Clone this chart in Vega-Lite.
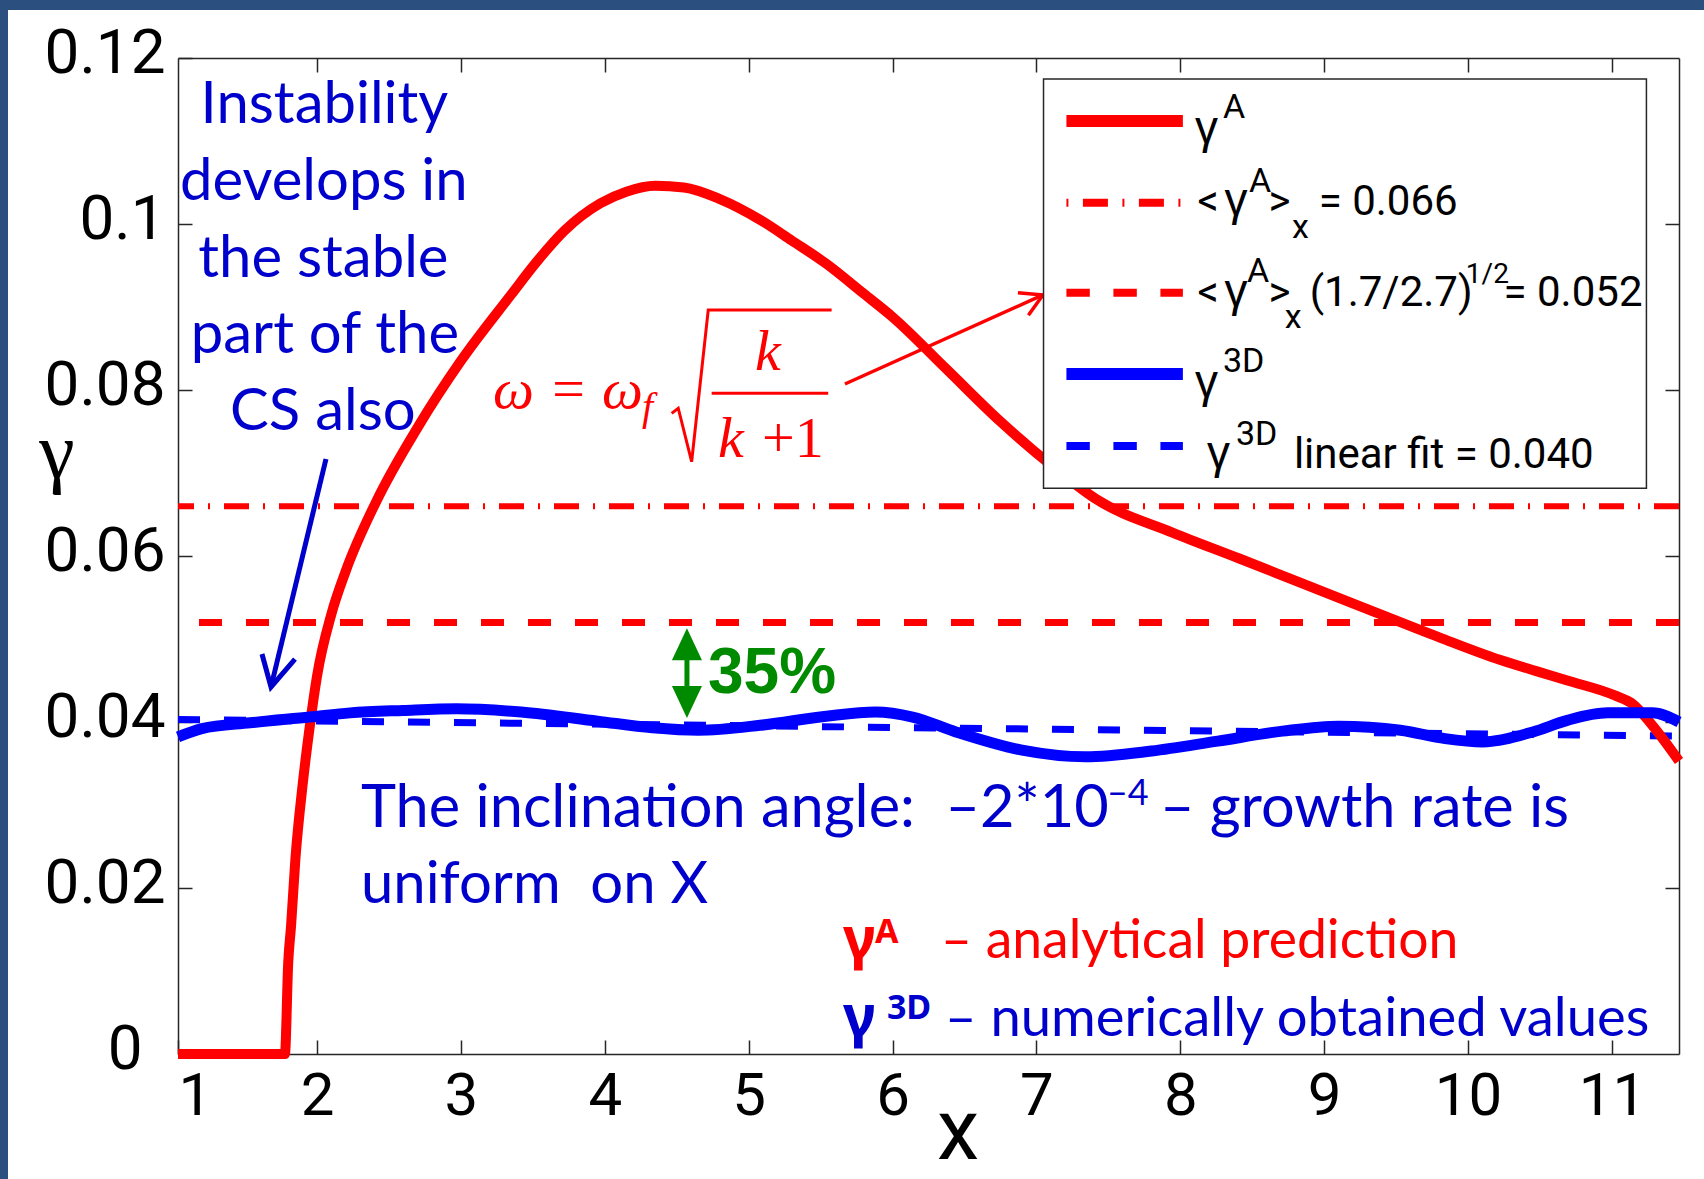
{
  "$schema": "https://vega.github.io/schema/vega-lite/v6.json",
  "width": 1501,
  "height": 996,
  "autosize": {"type": "none"},
  "padding": {"left": 178, "top": 58, "right": 25, "bottom": 125},
  "background": "white",
  "config": {"view": {"stroke": null}},
  "datasets": {
    "curves": [
      {"s": "gA", "x": 1.034, "y": 0},
      {"s": "gA", "x": 1.777, "y": 0},
      {"s": "gA", "x": 1.8, "y": 0.011},
      {"s": "gA", "x": 1.82, "y": 0.0155},
      {"s": "gA", "x": 1.85, "y": 0.0235},
      {"s": "gA", "x": 1.9, "y": 0.0324},
      {"s": "gA", "x": 1.95, "y": 0.0395},
      {"s": "gA", "x": 2.0, "y": 0.0455},
      {"s": "gA", "x": 2.1, "y": 0.053},
      {"s": "gA", "x": 2.2, "y": 0.0582},
      {"s": "gA", "x": 2.41, "y": 0.0665},
      {"s": "gA", "x": 2.7, "y": 0.0755},
      {"s": "gA", "x": 3.0, "y": 0.0835},
      {"s": "gA", "x": 3.35, "y": 0.0915},
      {"s": "gA", "x": 3.52, "y": 0.0953},
      {"s": "gA", "x": 3.72, "y": 0.0992},
      {"s": "gA", "x": 3.97, "y": 0.1025},
      {"s": "gA", "x": 4.15, "y": 0.1039},
      {"s": "gA", "x": 4.35, "y": 0.1046},
      {"s": "gA", "x": 4.55, "y": 0.1044},
      {"s": "gA", "x": 4.8, "y": 0.103},
      {"s": "gA", "x": 5.08, "y": 0.1005},
      {"s": "gA", "x": 5.3, "y": 0.098},
      {"s": "gA", "x": 5.54, "y": 0.0952},
      {"s": "gA", "x": 5.8, "y": 0.0916},
      {"s": "gA", "x": 6.0, "y": 0.0888},
      {"s": "gA", "x": 6.37, "y": 0.0826},
      {"s": "gA", "x": 6.75, "y": 0.0762},
      {"s": "gA", "x": 7.12, "y": 0.0707},
      {"s": "gA", "x": 7.42, "y": 0.0668},
      {"s": "gA", "x": 7.95, "y": 0.0628},
      {"s": "gA", "x": 8.41, "y": 0.0597},
      {"s": "gA", "x": 8.86, "y": 0.0566},
      {"s": "gA", "x": 9.3, "y": 0.0536},
      {"s": "gA", "x": 9.8, "y": 0.0502},
      {"s": "gA", "x": 10.22, "y": 0.0475},
      {"s": "gA", "x": 10.48, "y": 0.0461},
      {"s": "gA", "x": 10.69, "y": 0.045},
      {"s": "gA", "x": 11.02, "y": 0.0432},
      {"s": "gA", "x": 11.15, "y": 0.0421},
      {"s": "gA", "x": 11.28, "y": 0.0396},
      {"s": "gA", "x": 11.466, "y": 0.0353},
      {"s": "g3D", "x": 1.034, "y": 0.0382},
      {"s": "g3D", "x": 1.2, "y": 0.0392},
      {"s": "g3D", "x": 1.535, "y": 0.0399},
      {"s": "g3D", "x": 1.95, "y": 0.0406},
      {"s": "g3D", "x": 2.23, "y": 0.0411},
      {"s": "g3D", "x": 2.6, "y": 0.0414},
      {"s": "g3D", "x": 2.97, "y": 0.0416},
      {"s": "g3D", "x": 3.42, "y": 0.0412},
      {"s": "g3D", "x": 3.95, "y": 0.0401},
      {"s": "g3D", "x": 4.33, "y": 0.0393},
      {"s": "g3D", "x": 4.65, "y": 0.039},
      {"s": "g3D", "x": 5.08, "y": 0.0396},
      {"s": "g3D", "x": 5.54, "y": 0.0407},
      {"s": "g3D", "x": 5.88, "y": 0.0412},
      {"s": "g3D", "x": 6.14, "y": 0.0406},
      {"s": "g3D", "x": 6.44, "y": 0.0388},
      {"s": "g3D", "x": 6.9, "y": 0.0366},
      {"s": "g3D", "x": 7.34, "y": 0.0358},
      {"s": "g3D", "x": 7.8, "y": 0.0365},
      {"s": "g3D", "x": 8.26, "y": 0.0377},
      {"s": "g3D", "x": 8.71, "y": 0.0389},
      {"s": "g3D", "x": 9.1, "y": 0.0395},
      {"s": "g3D", "x": 9.53, "y": 0.039},
      {"s": "g3D", "x": 9.84, "y": 0.038},
      {"s": "g3D", "x": 10.1, "y": 0.0376},
      {"s": "g3D", "x": 10.45, "y": 0.0388},
      {"s": "g3D", "x": 10.69, "y": 0.0402},
      {"s": "g3D", "x": 10.97, "y": 0.0411},
      {"s": "g3D", "x": 11.28, "y": 0.0411},
      {"s": "g3D", "x": 11.466, "y": 0.04}
    ],
    "fit": [
      {"x": 1.034, "y": 0.0403},
      {"x": 11.466, "y": 0.0383}
    ],
    "levels": [
      {"k": "mean", "y": 0.066},
      {"k": "scaled", "y": 0.052}
    ],
    "frame": [
      {"x": -0.3, "x2": -0.1474, "y": -0.03, "y2": 0.14},
      {"x": -0.3, "x2": 11.8, "y": 0.12578, "y2": 0.14}
    ],
    "labels": [
      {"g": "note", "x": 2.0514, "y": 0.11217, "t": "Instability"},
      {"g": "note", "x": 2.0479, "y": 0.10289, "t": "develops in"},
      {"g": "note", "x": 2.0445, "y": 0.09361, "t": "the stable"},
      {"g": "note", "x": 2.0549, "y": 0.08446, "t": "part of the"},
      {"g": "note", "x": 2.041, "y": 0.07518, "t": "CS also"},
      {"g": "incl", "x": 2.3057, "y": 0.02735, "t": "The inclination angle: \u00a0–2*10"},
      {"g": "incl", "x": 7.8582, "y": 0.02735, "t": "– growth rate is"},
      {"g": "incl2", "x": 2.3057, "y": 0.01819, "t": "uniform \u00a0on X"},
      {"g": "inclsup", "x": 7.4899, "y": 0.03, "t": "–4"},
      {"g": "redkey", "x": 6.3363, "y": 0.01157, "t": "– analytical prediction"},
      {"g": "bluekey", "x": 6.3641, "y": 0.00217, "t": "– numerically obtained values"},
      {"g": "gR", "x": 5.6553, "y": 0.01157, "t": "γ"},
      {"g": "supR", "x": 5.8777, "y": 0.01337, "t": "A"},
      {"g": "gB", "x": 5.6553, "y": 0.00217, "t": "γ"},
      {"g": "supB", "x": 5.961, "y": 0.00422, "t": "3D"},
      {"g": "fit", "x": 3.223, "y": 0.07783, "t": "ω = ω"},
      {"g": "fit", "x": 4.7866, "y": 0.07193, "t": "k"},
      {"g": "fitc", "x": 5.1341, "y": 0.08241, "t": "k"},
      {"g": "fsub", "x": 4.2585, "y": 0.07639, "t": "f"},
      {"g": "fup", "x": 5.0924, "y": 0.07193, "t": "+1"},
      {"g": "pct", "x": 4.7171, "y": 0.0435, "t": "35%"},
      {"g": "legT", "x": 8.1195, "y": 0.10108, "t": "<"},
      {"g": "legT", "x": 8.6122, "y": 0.10108, "t": ">"},
      {"g": "legT", "x": 8.9617, "y": 0.10108, "t": "= 0.066"},
      {"g": "legT", "x": 8.1195, "y": 0.09012, "t": "<"},
      {"g": "legT", "x": 8.6122, "y": 0.09012, "t": ">"},
      {"g": "legT", "x": 8.8992, "y": 0.09012, "t": "(1.7/2.7)"},
      {"g": "legT", "x": 10.2466, "y": 0.09012, "t": "= 0.052"},
      {"g": "legT", "x": 8.7894, "y": 0.0706, "t": "linear fit = 0.040"},
      {"g": "legG", "x": 8.1014, "y": 0.10976, "t": "γ"},
      {"g": "legG", "x": 8.3064, "y": 0.10108, "t": "γ"},
      {"g": "legG", "x": 8.3064, "y": 0.09012, "t": "γ"},
      {"g": "legG", "x": 8.1014, "y": 0.07916, "t": "γ"},
      {"g": "legG", "x": 8.1848, "y": 0.0706, "t": "γ"},
      {"g": "legS", "x": 8.296, "y": 0.11277, "t": "A"},
      {"g": "legS", "x": 8.4767, "y": 0.10386, "t": "A"},
      {"g": "legS", "x": 8.7755, "y": 0.09831, "t": "x"},
      {"g": "legS", "x": 8.4628, "y": 0.09301, "t": "A"},
      {"g": "legS", "x": 8.7268, "y": 0.08747, "t": "x"},
      {"g": "legS", "x": 8.296, "y": 0.08217, "t": "3D"},
      {"g": "legS", "x": 8.3863, "y": 0.07337, "t": "3D"},
      {"g": "legH", "x": 9.9846, "y": 0.09289, "t": "1/2"}
    ],
    "strokes": [
      {"a": "blue", "p": "shaft", "o": 1, "x": 2.0625, "y": 0.07169},
      {"a": "blue", "p": "shaft", "o": 2, "x": 1.6803, "y": 0.04422},
      {"a": "blue", "p": "head", "o": 1, "x": 1.6177, "y": 0.04819},
      {"a": "blue", "p": "head", "o": 2, "x": 1.6803, "y": 0.04422},
      {"a": "blue", "p": "head", "o": 3, "x": 1.8471, "y": 0.04759},
      {"a": "red", "p": "shaft", "o": 1, "x": 5.6692, "y": 0.08072},
      {"a": "red", "p": "shaft", "o": 2, "x": 7.0452, "y": 0.09145},
      {"a": "red", "p": "head", "o": 1, "x": 6.8714, "y": 0.09173},
      {"a": "red", "p": "head", "o": 2, "x": 7.0452, "y": 0.09145},
      {"a": "red", "p": "head", "o": 3, "x": 6.9444, "y": 0.089},
      {"a": "rad", "p": "root", "o": 1, "x": 4.4649, "y": 0.07719},
      {"a": "rad", "p": "root", "o": 2, "x": 4.5107, "y": 0.0778},
      {"a": "rad", "p": "root", "o": 3, "x": 4.6038, "y": 0.07136},
      {"a": "rad", "p": "root", "o": 4, "x": 4.7192, "y": 0.08964},
      {"a": "rad", "p": "root", "o": 5, "x": 5.5767, "y": 0.08964},
      {"a": "rad", "p": "bar", "o": 1, "x": 4.7428, "y": 0.0796},
      {"a": "rad", "p": "bar", "o": 2, "x": 5.5531, "y": 0.0796},
      {"a": "green", "p": "shaft", "o": 1, "x": 4.5712, "y": 0.04807},
      {"a": "green", "p": "shaft", "o": 2, "x": 4.5712, "y": 0.04386}
    ],
    "heads": [
      {"h": "up", "x": 4.5712, "y": 0.04937},
      {"h": "down", "x": 4.5712, "y": 0.04241}
    ],
    "legbox": [
      {"x": 7.0494, "x2": 11.2396, "y": 0.06816, "y2": 0.11747}
    ],
    "legsamples": [
      {"s": "gA", "x": 7.2085, "x2": 8.018, "y": 0.11241},
      {"s": "mean", "x": 7.2085, "x2": 8.018, "y": 0.10257},
      {"s": "scaled", "x": 7.2085, "x2": 8.018, "y": 0.09172},
      {"s": "g3D", "x": 7.2085, "x2": 8.018, "y": 0.08193},
      {"s": "fit", "x": 7.2085, "x2": 8.018, "y": 0.07325}
    ]
  },
  "layer": [
    {
      "data": {"name": "frame"},
      "mark": {"type": "rect", "color": "#2B4F7E"},
      "encoding": {
        "x": {"field": "x", "type": "quantitative", "scale": {"domain": [1.034, 11.466], "nice": false, "zero": false}, "axis": null},
        "x2": {"field": "x2"},
        "y": {"field": "y", "type": "quantitative", "scale": {"domain": [0, 0.12], "nice": false, "zero": false}, "axis": null},
        "y2": {"field": "y2"}
      }
    },
    {
      "data": {"name": "labels"},
      "transform": [{"filter": "datum.g === 'note'"}],
      "mark": {"type": "text", "font": "Lato", "fontSize": 58, "color": "#0000CC", "align": "center", "baseline": "alphabetic"},
      "encoding": {
        "x": {"field": "x", "type": "quantitative", "scale": {"domain": [1.034, 11.466], "nice": false, "zero": false}, "axis": null},
        "y": {"field": "y", "type": "quantitative", "scale": {"domain": [0, 0.12], "nice": false, "zero": false}, "axis": null},
        "text": {"field": "t"}
      }
    },
    {
      "data": {"name": "strokes"},
      "transform": [{"filter": "datum.a === 'blue'"}],
      "mark": {"type": "line", "color": "#0000CC", "strokeWidth": 5, "strokeJoin": "miter"},
      "encoding": {
        "x": {"field": "x", "type": "quantitative", "scale": {"domain": [1.034, 11.466], "nice": false, "zero": false}, "axis": null},
        "y": {"field": "y", "type": "quantitative", "scale": {"domain": [0, 0.12], "nice": false, "zero": false}, "axis": null},
        "detail": {"field": "p"},
        "order": {"field": "o"}
      }
    },
    {
      "data": {"name": "labels"},
      "transform": [{"filter": "datum.g === 'incl'"}],
      "mark": {"type": "text", "font": "Lato", "fontSize": 59.5, "color": "#0000CC", "align": "left", "baseline": "alphabetic"},
      "encoding": {
        "x": {"field": "x", "type": "quantitative", "scale": {"domain": [1.034, 11.466], "nice": false, "zero": false}, "axis": null},
        "y": {"field": "y", "type": "quantitative", "scale": {"domain": [0, 0.12], "nice": false, "zero": false}, "axis": null},
        "text": {"field": "t"}
      }
    },
    {
      "data": {"name": "labels"},
      "transform": [{"filter": "datum.g === 'incl2'"}],
      "mark": {"type": "text", "font": "Lato", "fontSize": 58, "color": "#0000CC", "align": "left", "baseline": "alphabetic"},
      "encoding": {
        "x": {"field": "x", "type": "quantitative", "scale": {"domain": [1.034, 11.466], "nice": false, "zero": false}, "axis": null},
        "y": {"field": "y", "type": "quantitative", "scale": {"domain": [0, 0.12], "nice": false, "zero": false}, "axis": null},
        "text": {"field": "t"}
      }
    },
    {
      "data": {"name": "labels"},
      "transform": [{"filter": "datum.g === 'inclsup'"}],
      "mark": {"type": "text", "font": "Lato", "fontSize": 36, "color": "#0000CC", "align": "left", "baseline": "alphabetic"},
      "encoding": {
        "x": {"field": "x", "type": "quantitative", "scale": {"domain": [1.034, 11.466], "nice": false, "zero": false}, "axis": null},
        "y": {"field": "y", "type": "quantitative", "scale": {"domain": [0, 0.12], "nice": false, "zero": false}, "axis": null},
        "text": {"field": "t"}
      }
    },
    {
      "data": {"name": "labels"},
      "transform": [{"filter": "datum.g === 'redkey'"}],
      "mark": {"type": "text", "font": "Lato", "fontSize": 53.5, "color": "#FF0000", "align": "left", "baseline": "alphabetic"},
      "encoding": {
        "x": {"field": "x", "type": "quantitative", "scale": {"domain": [1.034, 11.466], "nice": false, "zero": false}, "axis": null},
        "y": {"field": "y", "type": "quantitative", "scale": {"domain": [0, 0.12], "nice": false, "zero": false}, "axis": null},
        "text": {"field": "t"}
      }
    },
    {
      "data": {"name": "labels"},
      "transform": [{"filter": "datum.g === 'bluekey'"}],
      "mark": {"type": "text", "font": "Lato", "fontSize": 54.4, "color": "#0000CC", "align": "left", "baseline": "alphabetic"},
      "encoding": {
        "x": {"field": "x", "type": "quantitative", "scale": {"domain": [1.034, 11.466], "nice": false, "zero": false}, "axis": null},
        "y": {"field": "y", "type": "quantitative", "scale": {"domain": [0, 0.12], "nice": false, "zero": false}, "axis": null},
        "text": {"field": "t"}
      }
    },
    {
      "data": {"name": "labels"},
      "transform": [{"filter": "datum.g === 'gR'"}],
      "mark": {"type": "text", "font": "Noto Sans", "fontWeight": "bold", "fontSize": 58, "color": "#FF0000", "align": "left", "baseline": "alphabetic"},
      "encoding": {
        "x": {"field": "x", "type": "quantitative", "scale": {"domain": [1.034, 11.466], "nice": false, "zero": false}, "axis": null},
        "y": {"field": "y", "type": "quantitative", "scale": {"domain": [0, 0.12], "nice": false, "zero": false}, "axis": null},
        "text": {"field": "t"}
      }
    },
    {
      "data": {"name": "labels"},
      "transform": [{"filter": "datum.g === 'supR'"}],
      "mark": {"type": "text", "font": "Noto Sans", "fontWeight": "bold", "fontSize": 34, "color": "#FF0000", "align": "left", "baseline": "alphabetic"},
      "encoding": {
        "x": {"field": "x", "type": "quantitative", "scale": {"domain": [1.034, 11.466], "nice": false, "zero": false}, "axis": null},
        "y": {"field": "y", "type": "quantitative", "scale": {"domain": [0, 0.12], "nice": false, "zero": false}, "axis": null},
        "text": {"field": "t"}
      }
    },
    {
      "data": {"name": "labels"},
      "transform": [{"filter": "datum.g === 'gB'"}],
      "mark": {"type": "text", "font": "Noto Sans", "fontWeight": "bold", "fontSize": 58, "color": "#0000CC", "align": "left", "baseline": "alphabetic"},
      "encoding": {
        "x": {"field": "x", "type": "quantitative", "scale": {"domain": [1.034, 11.466], "nice": false, "zero": false}, "axis": null},
        "y": {"field": "y", "type": "quantitative", "scale": {"domain": [0, 0.12], "nice": false, "zero": false}, "axis": null},
        "text": {"field": "t"}
      }
    },
    {
      "data": {"name": "labels"},
      "transform": [{"filter": "datum.g === 'supB'"}],
      "mark": {"type": "text", "font": "Noto Sans", "fontWeight": "bold", "fontSize": 34, "color": "#0000CC", "align": "left", "baseline": "alphabetic"},
      "encoding": {
        "x": {"field": "x", "type": "quantitative", "scale": {"domain": [1.034, 11.466], "nice": false, "zero": false}, "axis": null},
        "y": {"field": "y", "type": "quantitative", "scale": {"domain": [0, 0.12], "nice": false, "zero": false}, "axis": null},
        "text": {"field": "t"}
      }
    },
    {
      "data": {"name": "labels"},
      "transform": [{"filter": "datum.g === 'fit'"}],
      "mark": {"type": "text", "font": "Liberation Serif", "fontStyle": "italic", "fontSize": 58, "color": "#FF0000", "align": "left", "baseline": "alphabetic"},
      "encoding": {
        "x": {"field": "x", "type": "quantitative", "scale": {"domain": [1.034, 11.466], "nice": false, "zero": false}, "axis": null},
        "y": {"field": "y", "type": "quantitative", "scale": {"domain": [0, 0.12], "nice": false, "zero": false}, "axis": null},
        "text": {"field": "t"}
      }
    },
    {
      "data": {"name": "labels"},
      "transform": [{"filter": "datum.g === 'fitc'"}],
      "mark": {"type": "text", "font": "Liberation Serif", "fontStyle": "italic", "fontSize": 58, "color": "#FF0000", "align": "center", "baseline": "alphabetic"},
      "encoding": {
        "x": {"field": "x", "type": "quantitative", "scale": {"domain": [1.034, 11.466], "nice": false, "zero": false}, "axis": null},
        "y": {"field": "y", "type": "quantitative", "scale": {"domain": [0, 0.12], "nice": false, "zero": false}, "axis": null},
        "text": {"field": "t"}
      }
    },
    {
      "data": {"name": "labels"},
      "transform": [{"filter": "datum.g === 'fsub'"}],
      "mark": {"type": "text", "font": "Liberation Serif", "fontStyle": "italic", "fontSize": 40, "color": "#FF0000", "align": "left", "baseline": "alphabetic"},
      "encoding": {
        "x": {"field": "x", "type": "quantitative", "scale": {"domain": [1.034, 11.466], "nice": false, "zero": false}, "axis": null},
        "y": {"field": "y", "type": "quantitative", "scale": {"domain": [0, 0.12], "nice": false, "zero": false}, "axis": null},
        "text": {"field": "t"}
      }
    },
    {
      "data": {"name": "labels"},
      "transform": [{"filter": "datum.g === 'fup'"}],
      "mark": {"type": "text", "font": "Liberation Serif", "fontSize": 58, "color": "#FF0000", "align": "left", "baseline": "alphabetic"},
      "encoding": {
        "x": {"field": "x", "type": "quantitative", "scale": {"domain": [1.034, 11.466], "nice": false, "zero": false}, "axis": null},
        "y": {"field": "y", "type": "quantitative", "scale": {"domain": [0, 0.12], "nice": false, "zero": false}, "axis": null},
        "text": {"field": "t"}
      }
    },
    {
      "data": {"name": "strokes"},
      "transform": [{"filter": "datum.a === 'rad'"}],
      "mark": {"type": "line", "color": "#FF0000", "strokeWidth": 3, "strokeJoin": "miter"},
      "encoding": {
        "x": {"field": "x", "type": "quantitative", "scale": {"domain": [1.034, 11.466], "nice": false, "zero": false}, "axis": null},
        "y": {"field": "y", "type": "quantitative", "scale": {"domain": [0, 0.12], "nice": false, "zero": false}, "axis": null},
        "detail": {"field": "p"},
        "order": {"field": "o"}
      }
    },
    {
      "data": {"name": "strokes"},
      "transform": [{"filter": "datum.a === 'red'"}],
      "mark": {"type": "line", "color": "#FF0000", "strokeWidth": 3.5, "strokeJoin": "miter"},
      "encoding": {
        "x": {"field": "x", "type": "quantitative", "scale": {"domain": [1.034, 11.466], "nice": false, "zero": false}, "axis": null},
        "y": {"field": "y", "type": "quantitative", "scale": {"domain": [0, 0.12], "nice": false, "zero": false}, "axis": null},
        "detail": {"field": "p"},
        "order": {"field": "o"}
      }
    },
    {
      "data": {"name": "levels"},
      "transform": [{"filter": "datum.k === 'mean'"}],
      "mark": {"type": "rule", "color": "#FF0000", "strokeWidth": 6, "strokeDash": [25, 14, 2, 14]},
      "encoding": {
        "y": {"field": "y", "type": "quantitative", "scale": {"domain": [0, 0.12], "nice": false, "zero": false}, "axis": null}
      }
    },
    {
      "data": {"name": "levels"},
      "transform": [{"filter": "datum.k === 'scaled'"}],
      "mark": {"type": "rule", "color": "#FF0000", "strokeWidth": 7, "strokeDash": [23, 24]},
      "encoding": {
        "y": {"field": "y", "type": "quantitative", "scale": {"domain": [0, 0.12], "nice": false, "zero": false}, "axis": null}
      }
    },
    {
      "data": {"name": "fit"},
      "mark": {"type": "line", "color": "#0000FF", "strokeWidth": 7, "strokeDash": [22, 24]},
      "encoding": {
        "x": {"field": "x", "type": "quantitative", "scale": {"domain": [1.034, 11.466], "nice": false, "zero": false}, "axis": null},
        "y": {"field": "y", "type": "quantitative", "scale": {"domain": [0, 0.12], "nice": false, "zero": false}, "axis": null}
      }
    },
    {
      "data": {"name": "curves"},
      "transform": [{"filter": "datum.s === 'gA'"}],
      "mark": {"type": "line", "color": "#FF0000", "strokeWidth": 10, "interpolate": "monotone"},
      "encoding": {
        "x": {
          "field": "x", "type": "quantitative",
          "scale": {"domain": [1.034, 11.466], "nice": false, "zero": false},
          "axis": {
            "orient": "bottom",
            "values": [1.034, 2, 3, 4, 5, 6, 7, 8, 9, 10, 11],
            "labelExpr": "datum.value < 1.5 ? '1' : format(datum.value, 'd')",
            "labelAlign": {"condition": {"test": "datum.value < 1.5", "value": "left"}, "value": "center"},
            "labelFont": "Roboto", "labelFontSize": 60, "labelColor": "#000000",
            "labelPadding": 27, "labelBaseline": "top",
            "labelOverlap": false, "labelBound": false, "labelFlush": false,
            "tickSize": -14, "tickColor": "#262626", "tickWidth": 1.5,
            "domainColor": "#262626", "domainWidth": 1.5, "grid": false,
            "title": "x", "titleFont": "Roboto", "titleFontSize": 85, "titleFontWeight": "normal",
            "titleColor": "#000000", "titleAlign": "center", "titleBaseline": "alphabetic",
            "titleX": 779.5, "titleY": 104
          }
        },
        "y": {
          "field": "y", "type": "quantitative",
          "scale": {"domain": [0, 0.12], "nice": false, "zero": false},
          "axis": {
            "orient": "left",
            "values": [0, 0.02, 0.04, 0.06, 0.08, 0.1, 0.12],
            "labelExpr": "datum.value === 0 ? '0' : format(datum.value, '.2~f')",
            "labelFont": "Roboto", "labelFontSize": 62, "labelColor": "#000000",
            "labelPadding": {"condition": {"test": "datum.value === 0", "value": 50}, "value": 27},
            "labelAlign": "right", "labelBaseline": "middle", "labelOffset": -5,
            "labelOverlap": false, "labelBound": false, "labelFlush": false,
            "tickSize": -14, "tickColor": "#262626", "tickWidth": 1.5,
            "domainColor": "#262626", "domainWidth": 1.5, "grid": false,
            "title": "γ", "titleFont": "Liberation Serif", "titleFontSize": 80, "titleFontWeight": "normal",
            "titleColor": "#000000", "titleAngle": 0, "titleAlign": "center", "titleBaseline": "alphabetic",
            "titleX": -121.5, "titleY": 419
          }
        }
      }
    },
    {
      "data": {"name": "curves"},
      "transform": [{"filter": "datum.s === 'g3D'"}],
      "mark": {"type": "line", "color": "#0000FF", "strokeWidth": 11, "interpolate": "monotone"},
      "encoding": {
        "x": {
          "field": "x", "type": "quantitative",
          "scale": {"domain": [1.034, 11.466], "nice": false, "zero": false},
          "axis": {
            "orient": "top", "values": [2, 3, 4, 5, 6, 7, 8, 9, 10, 11], "labels": false,
            "tickSize": -14, "tickColor": "#262626", "tickWidth": 1.5,
            "domainColor": "#262626", "domainWidth": 1.5, "grid": false, "title": null
          }
        },
        "y": {
          "field": "y", "type": "quantitative",
          "scale": {"domain": [0, 0.12], "nice": false, "zero": false},
          "axis": {
            "orient": "right", "values": [0.02, 0.04, 0.06, 0.08, 0.1], "labels": false,
            "tickSize": -14, "tickColor": "#262626", "tickWidth": 1.5,
            "domainColor": "#262626", "domainWidth": 1.5, "grid": false, "title": null
          }
        }
      }
    },
    {
      "data": {"name": "strokes"},
      "transform": [{"filter": "datum.a === 'green'"}],
      "mark": {"type": "line", "color": "#008A00", "strokeWidth": 5},
      "encoding": {
        "x": {"field": "x", "type": "quantitative", "scale": {"domain": [1.034, 11.466], "nice": false, "zero": false}, "axis": null},
        "y": {"field": "y", "type": "quantitative", "scale": {"domain": [0, 0.12], "nice": false, "zero": false}, "axis": null},
        "order": {"field": "o"}
      }
    },
    {
      "data": {"name": "heads"},
      "transform": [{"filter": "datum.h === 'up'"}],
      "mark": {"type": "point", "filled": true, "opacity": 1, "color": "#008A00", "size": 1024, "shape": "M0,-1L0.94,1L-0.94,1Z"},
      "encoding": {
        "x": {"field": "x", "type": "quantitative", "scale": {"domain": [1.034, 11.466], "nice": false, "zero": false}, "axis": null},
        "y": {"field": "y", "type": "quantitative", "scale": {"domain": [0, 0.12], "nice": false, "zero": false}, "axis": null}
      }
    },
    {
      "data": {"name": "heads"},
      "transform": [{"filter": "datum.h === 'down'"}],
      "mark": {"type": "point", "filled": true, "opacity": 1, "color": "#008A00", "size": 1024, "shape": "M0,1L0.94,-1L-0.94,-1Z"},
      "encoding": {
        "x": {"field": "x", "type": "quantitative", "scale": {"domain": [1.034, 11.466], "nice": false, "zero": false}, "axis": null},
        "y": {"field": "y", "type": "quantitative", "scale": {"domain": [0, 0.12], "nice": false, "zero": false}, "axis": null}
      }
    },
    {
      "data": {"name": "labels"},
      "transform": [{"filter": "datum.g === 'pct'"}],
      "mark": {"type": "text", "font": "Liberation Sans", "fontWeight": "bold", "fontSize": 64, "color": "#008A00", "align": "left", "baseline": "alphabetic"},
      "encoding": {
        "x": {"field": "x", "type": "quantitative", "scale": {"domain": [1.034, 11.466], "nice": false, "zero": false}, "axis": null},
        "y": {"field": "y", "type": "quantitative", "scale": {"domain": [0, 0.12], "nice": false, "zero": false}, "axis": null},
        "text": {"field": "t"}
      }
    },
    {
      "data": {"name": "legbox"},
      "mark": {"type": "rect", "fill": "white", "stroke": "#262626", "strokeWidth": 1.5},
      "encoding": {
        "x": {"field": "x", "type": "quantitative", "scale": {"domain": [1.034, 11.466], "nice": false, "zero": false}, "axis": null},
        "x2": {"field": "x2"},
        "y": {"field": "y", "type": "quantitative", "scale": {"domain": [0, 0.12], "nice": false, "zero": false}, "axis": null},
        "y2": {"field": "y2"}
      }
    },
    {
      "data": {"name": "legsamples"},
      "transform": [{"filter": "datum.s === 'gA'"}],
      "mark": {"type": "rule", "color": "#FF0000", "strokeWidth": 12},
      "encoding": {
        "x": {"field": "x", "type": "quantitative", "scale": {"domain": [1.034, 11.466], "nice": false, "zero": false}, "axis": null},
        "x2": {"field": "x2"},
        "y": {"field": "y", "type": "quantitative", "scale": {"domain": [0, 0.12], "nice": false, "zero": false}, "axis": null}
      }
    },
    {
      "data": {"name": "legsamples"},
      "transform": [{"filter": "datum.s === 'mean'"}],
      "mark": {"type": "rule", "color": "#FF0000", "strokeWidth": 8, "strokeDash": [2, 14.5, 25, 14.5]},
      "encoding": {
        "x": {"field": "x", "type": "quantitative", "scale": {"domain": [1.034, 11.466], "nice": false, "zero": false}, "axis": null},
        "x2": {"field": "x2"},
        "y": {"field": "y", "type": "quantitative", "scale": {"domain": [0, 0.12], "nice": false, "zero": false}, "axis": null}
      }
    },
    {
      "data": {"name": "legsamples"},
      "transform": [{"filter": "datum.s === 'scaled'"}],
      "mark": {"type": "rule", "color": "#FF0000", "strokeWidth": 8, "strokeDash": [23.4, 23.6]},
      "encoding": {
        "x": {"field": "x", "type": "quantitative", "scale": {"domain": [1.034, 11.466], "nice": false, "zero": false}, "axis": null},
        "x2": {"field": "x2"},
        "y": {"field": "y", "type": "quantitative", "scale": {"domain": [0, 0.12], "nice": false, "zero": false}, "axis": null}
      }
    },
    {
      "data": {"name": "legsamples"},
      "transform": [{"filter": "datum.s === 'g3D'"}],
      "mark": {"type": "rule", "color": "#0000FF", "strokeWidth": 12},
      "encoding": {
        "x": {"field": "x", "type": "quantitative", "scale": {"domain": [1.034, 11.466], "nice": false, "zero": false}, "axis": null},
        "x2": {"field": "x2"},
        "y": {"field": "y", "type": "quantitative", "scale": {"domain": [0, 0.12], "nice": false, "zero": false}, "axis": null}
      }
    },
    {
      "data": {"name": "legsamples"},
      "transform": [{"filter": "datum.s === 'fit'"}],
      "mark": {"type": "rule", "color": "#0000FF", "strokeWidth": 8, "strokeDash": [23.4, 23.6]},
      "encoding": {
        "x": {"field": "x", "type": "quantitative", "scale": {"domain": [1.034, 11.466], "nice": false, "zero": false}, "axis": null},
        "x2": {"field": "x2"},
        "y": {"field": "y", "type": "quantitative", "scale": {"domain": [0, 0.12], "nice": false, "zero": false}, "axis": null}
      }
    },
    {
      "data": {"name": "labels"},
      "transform": [{"filter": "datum.g === 'legT'"}],
      "mark": {"type": "text", "font": "Roboto", "fontSize": 42, "color": "#000000", "align": "left", "baseline": "alphabetic"},
      "encoding": {
        "x": {"field": "x", "type": "quantitative", "scale": {"domain": [1.034, 11.466], "nice": false, "zero": false}, "axis": null},
        "y": {"field": "y", "type": "quantitative", "scale": {"domain": [0, 0.12], "nice": false, "zero": false}, "axis": null},
        "text": {"field": "t"}
      }
    },
    {
      "data": {"name": "labels"},
      "transform": [{"filter": "datum.g === 'legG'"}],
      "mark": {"type": "text", "font": "Liberation Sans", "fontSize": 46, "color": "#000000", "align": "left", "baseline": "alphabetic"},
      "encoding": {
        "x": {"field": "x", "type": "quantitative", "scale": {"domain": [1.034, 11.466], "nice": false, "zero": false}, "axis": null},
        "y": {"field": "y", "type": "quantitative", "scale": {"domain": [0, 0.12], "nice": false, "zero": false}, "axis": null},
        "text": {"field": "t"}
      }
    },
    {
      "data": {"name": "labels"},
      "transform": [{"filter": "datum.g === 'legS'"}],
      "mark": {"type": "text", "font": "Roboto", "fontSize": 34, "color": "#000000", "align": "left", "baseline": "alphabetic"},
      "encoding": {
        "x": {"field": "x", "type": "quantitative", "scale": {"domain": [1.034, 11.466], "nice": false, "zero": false}, "axis": null},
        "y": {"field": "y", "type": "quantitative", "scale": {"domain": [0, 0.12], "nice": false, "zero": false}, "axis": null},
        "text": {"field": "t"}
      }
    },
    {
      "data": {"name": "labels"},
      "transform": [{"filter": "datum.g === 'legH'"}],
      "mark": {"type": "text", "font": "Roboto", "fontSize": 28, "color": "#000000", "align": "left", "baseline": "alphabetic"},
      "encoding": {
        "x": {"field": "x", "type": "quantitative", "scale": {"domain": [1.034, 11.466], "nice": false, "zero": false}, "axis": null},
        "y": {"field": "y", "type": "quantitative", "scale": {"domain": [0, 0.12], "nice": false, "zero": false}, "axis": null},
        "text": {"field": "t"}
      }
    }
  ],
  "resolve": {"scale": {"x": "shared", "y": "shared"}, "axis": {"x": "independent", "y": "independent"}}
}
